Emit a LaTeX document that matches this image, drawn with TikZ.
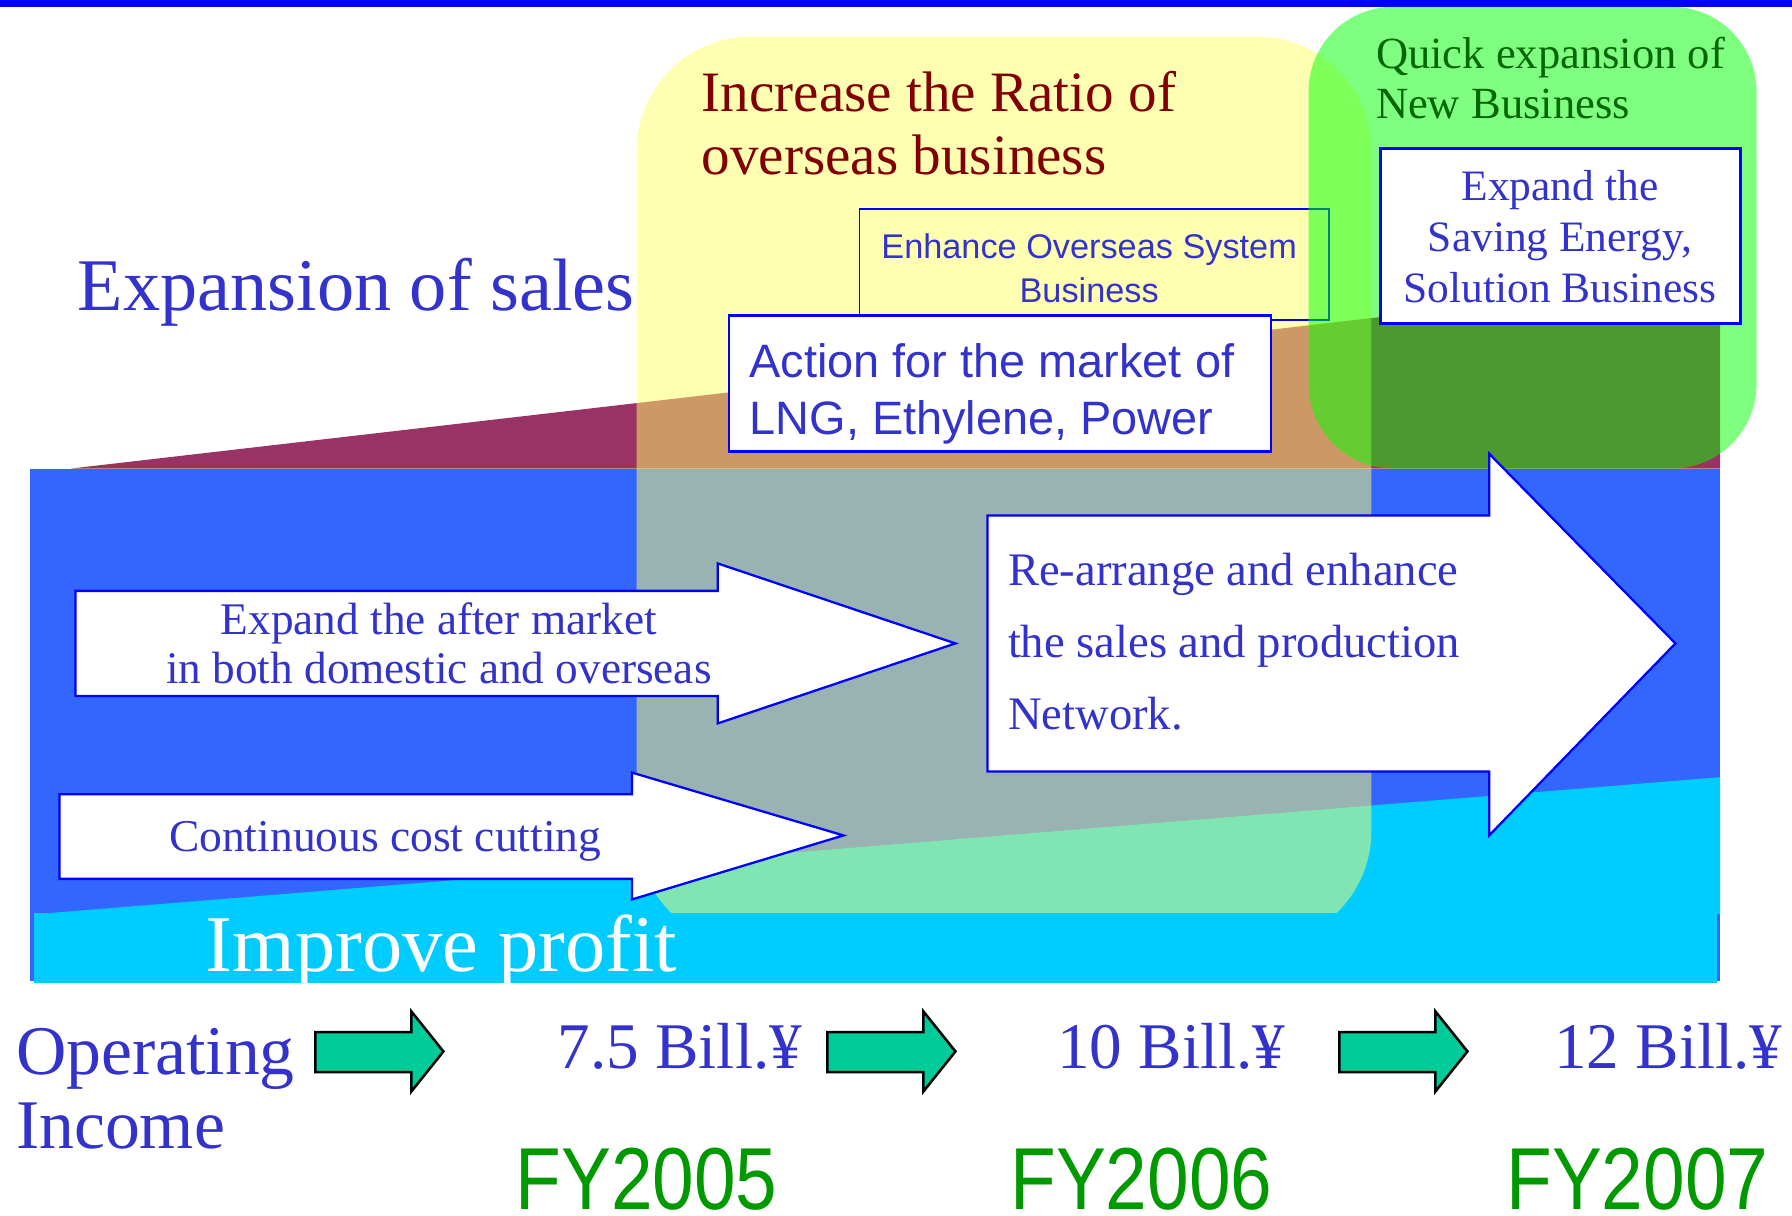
\documentclass[tikz,border=0pt]{standalone}
\usepackage{fontspec}
\setmainfont{Liberation Serif}
\setsansfont{Liberation Sans}
\usepackage{graphicx}
\definecolor{topblue}{HTML}{0000FF}
\definecolor{maroonc}{HTML}{993366}
\definecolor{blueR}{HTML}{3366FF}
\definecolor{cyanR}{HTML}{00CCFF}
\definecolor{yellowR}{HTML}{FFFF66}
\definecolor{greenR}{HTML}{00FF00}
\definecolor{textblue}{HTML}{3333CC}
\definecolor{darkredT}{HTML}{800000}
\definecolor{darkgreenT}{HTML}{006600}
\definecolor{arrowgreen}{HTML}{00CC99}
\definecolor{fygreen}{HTML}{009900}
\definecolor{boxblue}{HTML}{0000FF}
\newcommand\setfs[2]{\fontsize{#1}{#2}\selectfont}
\begin{document}
\begin{tikzpicture}[x=0.5pt,y=-0.5pt,
  txt/.style={inner sep=0pt, outer sep=0pt, anchor=base west},
  ctxt/.style={inner sep=0pt, outer sep=0pt, anchor=base, align=center},
  fytxt/.style={txt, text=fygreen, text depth=0pt, font=\sffamily\setfs{38.5}{40}},
  wbox/.style={draw=boxblue, line width=1pt, fill=white},
  obox/.style={draw=boxblue, line width=0.8pt},
  warrow/.style={draw=boxblue, line width=1pt, fill=white, line join=miter},
  garrow/.style={draw=black, line width=1.1pt, fill=arrowgreen, line join=miter}]
\useasboundingbox (0,0) rectangle (1568,1064);
% top line
\fill[topblue] (0,0) rectangle (1568,6);
% background shapes
\fill[maroonc] (62,410) -- (1505,243) -- (1505,410) -- cycle;
\fill[blueR] (26,410) rectangle (1505,858);
\fill[cyanR] (30,800) -- (1505,680) -- (1505,800) -- cycle;
\fill[yellowR, fill opacity=0.5, rounded corners=50pt] (557,32) rectangle (1200,827);
% enhance overseas box (under green)
\draw[obox] (752,183) rectangle (1163,280);
\node[ctxt, text=textblue, font=\sffamily\setfs{15}{19.5}] (enh) at (953,265) {Enhance Overseas System\\Business};
\fill[greenR, fill opacity=0.5, rounded corners=37pt] (1145,6) rectangle (1537,410);
\fill[cyanR] (30,799) rectangle (1502,860);
% action box
\draw[wbox] (638,276) rectangle (1112,395);
\node[txt, text=textblue, font=\sffamily\setfs{20.5}{25}, align=left] (act) at (656,380) {Action for the market of\\LNG, Ethylene, Power};
% saving energy box
\draw[wbox] (1208,130) rectangle (1523,283);
\node[ctxt, text=textblue, font=\setfs{19}{22.5}] (save) at (1365,265) {Expand the\\Saving Energy,\\Solution Business};
% headings
\node[txt, text=darkredT, font=\setfs{25}{27.5}, align=left] (ratio) at (614,153) {Increase the Ratio of\\overseas business};
\node[txt, text=darkgreenT, font=\setfs{19.5}{22}, align=left] (quick) at (1204,104) {Quick expansion of\\New Business};
\node[txt, text=textblue, font=\setfs{32.5}{39}] (exp) at (68,272) {Expansion of sales};
% white arrows
\draw[warrow] (66,517) -- (628,517) -- (628,493) -- (836,563) -- (628,633) -- (628,609) -- (66,609) -- cycle;
\node[ctxt, text=textblue, font=\setfs{19.8}{21.5}] (after) at (384,598) {Expand the after market\\in both domestic and overseas};
\draw[warrow] (52,695) -- (553,695) -- (553,676) -- (738,731) -- (553,787) -- (553,769) -- (52,769) -- cycle;
\node[txt, text=textblue, font=\setfs{19.9}{22}] (cost) at (148,745) {Continuous cost cutting};
\draw[warrow] (864,451) -- (1303,451) -- (1303,397) -- (1466,563) -- (1303,731) -- (1303,675) -- (864,675) -- cycle;
\node[txt, text=textblue, font=\setfs{20.4}{31.5}, align=left] (net) at (882,638) {Re-arrange and enhance\\the sales and production\\Network.};
% improve profit
\node[txt, text=white, font=\setfs{35.2}{40}] (prof) at (180,850) {Improve profit};
% bottom row
\node[txt, text=textblue, font=\setfs{30.5}{32.5}, align=left] (oi) at (14,1005) {Operating\\Income};
\foreach \dx/\nm in {0/ga, 448/gb, 896/gc}{
  \draw[garrow] (276+\dx,903) -- (360+\dx,903) -- (360+\dx,885) -- (388+\dx,920) -- (360+\dx,955) -- (360+\dx,938) -- (276+\dx,938) -- cycle;
}
\node[txt, text=textblue, font=\setfs{28.5}{32}] (v1) at (488,935) {7.5 Bill.¥};
\node[txt, text=textblue, font=\setfs{28.5}{32}] (v2) at (925,935) {10 Bill.¥};
\node[txt, text=textblue, font=\setfs{28.5}{32}] (v3) at (1360,935) {12 Bill.¥};
\node[fytxt] (fy1) at (451,1058) {\scalebox{0.85}[1]{FY2005}};
\node[fytxt] (fy2) at (884,1058) {\scalebox{0.85}[1]{FY2006}};
\node[fytxt] (fy3) at (1318,1058) {\scalebox{0.85}[1]{FY2007}};
\end{tikzpicture}
\end{document}
